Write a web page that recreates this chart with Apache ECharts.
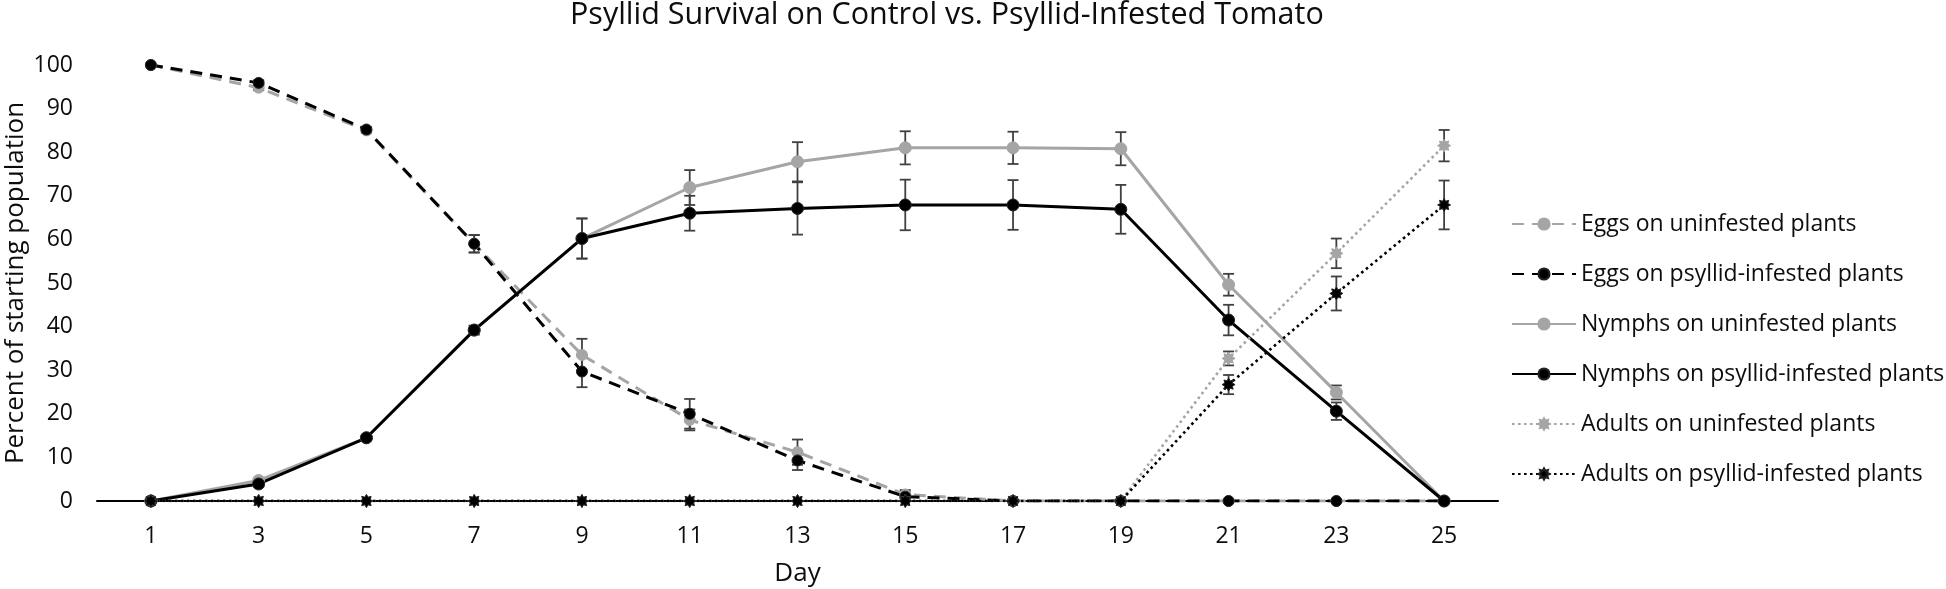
<!DOCTYPE html>
<html>
<head>
<meta charset="utf-8">
<script src="https://cdn.jsdelivr.net/npm/echarts@6/dist/echarts.min.js"></script>
<style>
html,body{margin:0;padding:0;background:#fff;}
#chart{width:1946px;height:589px;}
</style>
</head>
<body>
<div id="chart"></div>
<script>
// ---- data ----
const days = ['1','3','5','7','9','11','13','15','17','19','21','23','25'];
const yTicks = [0,10,20,30,40,50,60,70,80,90,100];

const eggsUninf = [100, 94.8, 85, 59, 33.5, 18.6, 11.2, 1.5, 0, 0, 0, 0, 0];
const eggsInf   = [100, 95.9, 85.2, 59, 29.7, 20, 9.3, 1, 0, 0, 0, 0, 0];
const nymUninf  = [0, 4.7, 14.5, 39.2, 60.2, 71.9, 77.8, 81, 81, 80.8, 49.6, 24.9, 0];
const nymInf    = [0, 3.9, 14.5, 39.2, 60.2, 66, 67.1, 67.9, 67.9, 66.9, 41.5, 20.6, 0];
const adUninf   = [0, 0, 0, 0, 0, 0, 0, 0, 0, 0, 32.7, 56.8, 81.5];
const adInf     = [0, 0, 0, 0, 0, 0, 0, 0, 0, 0, 26.7, 47.6, 67.9];

const eggsUninfErr = [0, 0.6, 0.6, 2, 3.7, 2.4, 2.9, 1, 0, 0, 0, 0, 0];
const eggsInfErr   = [0, 0.6, 0.6, 2, 3.6, 3.4, 2.2, 1, 0, 0, 0, 0, 0];
const nymUninfErr  = [0, 0.6, 0.6, 1, 4.6, 4, 4.5, 3.8, 3.7, 3.8, 2.5, 1.6, 0];
const nymInfErr    = [0, 0.6, 0.6, 1, 4.6, 4, 6, 5.8, 5.7, 5.6, 3.5, 2, 0];
const adUninfErr   = [0, 0, 0, 0, 0, 0, 0, 0, 0, 0, 1.6, 3.4, 3.6];
const adInfErr     = [0, 0, 0, 0, 0, 0, 0, 0, 0, 0, 2.2, 3.9, 5.6];

const seriesNames = [
  'Eggs on uninfested plants',
  'Eggs on psyllid-infested plants',
  'Nymphs on uninfested plants',
  'Nymphs on psyllid-infested plants',
  'Adults on uninfested plants',
  'Adults on psyllid-infested plants'
];

// ---- styles ----
const GRAY = '#a5a5a5';
const BLACK = '#000000';
const TXT = '#0d0d0d';
const STAR = 'path://M200 100L157 124L171 171L124 157L100 200L76 157L29 171L43 124L0 100L43 76L29 29L76 43L100 0L124 43L171 29L157 76Z';
const FONT = '"Open Sans", "DejaVu Sans", sans-serif';

function lineSeries(name, data, color, type, symbol, size, borderColor) {
  return {
    name: name, type: 'line', data: data,
    symbol: symbol, symbolSize: size,
    showAllSymbol: true,
    lineStyle: {color: color, width: type === 'dotted' ? 2.6 : 3, type: type === 'dashed' ? [12, 8] : (type === 'dotted' ? [2.6, 3.4] : 'solid'), cap: 'butt'},
    itemStyle: {color: color, borderColor: borderColor, borderWidth: 1},
    emphasis: {disabled: true},
    animation: false
  };
}

function errSeries(name, vals, errs) {
  const d = vals.map((v, i) => [i, v, errs[i]]);
  return {
    type: 'custom', name: name + ' err', silent: true, animation: false,
    data: d,
    encode: {x: 0, y: 1},
    renderItem: function (params, api) {
      const e = api.value(2);
      if (!(e > 0.3)) return {type: 'group', children: []};
      const i = api.value(0), v = api.value(1);
      const top = api.coord([i, v + e]);
      const bot = api.coord([i, v - e]);
      const hw = 5.5;
      const st = {stroke: '#404040', lineWidth: 1.8};
      return {type: 'group', children: [
        {type: 'line', shape: {x1: top[0], y1: top[1], x2: bot[0], y2: bot[1]}, style: st},
        {type: 'line', shape: {x1: top[0]-hw, y1: top[1], x2: top[0]+hw, y2: top[1]}, style: st},
        {type: 'line', shape: {x1: bot[0]-hw, y1: bot[1], x2: bot[0]+hw, y2: bot[1]}, style: st}
      ]};
    }
  };
}

const chart = echarts.init(document.getElementById('chart'), null, {renderer: 'canvas'});
chart.setOption({
  backgroundColor: '#ffffff',
  animation: false,
  textStyle: {fontFamily: FONT},
  graphic: [{
    type: 'text', left: 570, top: 0,
    style: {text: 'Psyllid Survival on Control vs. Psyllid-Infested Tomato', font: '30.5px ' + FONT, fill: TXT}
  }],
  grid: {left: 97, right: 448, top: 65, bottom: 88, containLabel: false, outerBoundsMode: 'none'},
  legend: {
    orient: 'vertical', left: 1506, top: 206,
    itemWidth: 64, itemHeight: 14, itemGap: 24,
    data: seriesNames,
    textStyle: {fontSize: 23, color: TXT, fontFamily: FONT, lineHeight: 26},
    selectedMode: false
  },
  xAxis: {
    type: 'category', data: days, boundaryGap: true,
    name: 'Day', nameLocation: 'middle', nameGap: 60, nameMoveOverlap: false,
    nameTextStyle: {fontSize: 26, color: TXT, fontFamily: FONT},
    axisLine: {lineStyle: {color: '#000', width: 2}},
    axisTick: {show: false},
    axisLabel: {fontSize: 23, color: TXT, margin: 24, fontFamily: FONT},
    splitLine: {show: false}
  },
  yAxis: {
    type: 'value', min: yTicks[0], max: yTicks[yTicks.length-1], interval: 10,
    name: 'Percent of starting population', nameLocation: 'middle', nameGap: 68, nameMoveOverlap: false,
    nameTextStyle: {fontSize: 26, color: TXT, fontFamily: FONT},
    axisLine: {show: false}, axisTick: {show: false},
    axisLabel: {fontSize: 23, color: TXT, margin: 24, fontFamily: FONT},
    splitLine: {show: false}
  },
  series: [
    lineSeries(seriesNames[0], eggsUninf, GRAY, 'dashed', 'circle', 11, GRAY),
    errSeries(seriesNames[0], eggsUninf, eggsUninfErr),
    lineSeries(seriesNames[1], eggsInf, BLACK, 'dashed', 'circle', 11, '#222'),
    errSeries(seriesNames[1], eggsInf, eggsInfErr),
    lineSeries(seriesNames[2], nymUninf, GRAY, 'solid', 'circle', 12, GRAY),
    errSeries(seriesNames[2], nymUninf, nymUninfErr),
    lineSeries(seriesNames[3], nymInf, BLACK, 'solid', 'circle', 12, '#222'),
    errSeries(seriesNames[3], nymInf, nymInfErr),
    lineSeries(seriesNames[4], adUninf, GRAY, 'dotted', STAR, 13, GRAY),
    errSeries(seriesNames[4], adUninf, adUninfErr),
    lineSeries(seriesNames[5], adInf, BLACK, 'dotted', STAR, 13, '#222'),
    errSeries(seriesNames[5], adInf, adInfErr)
  ]
});
</script>
</body>
</html>
